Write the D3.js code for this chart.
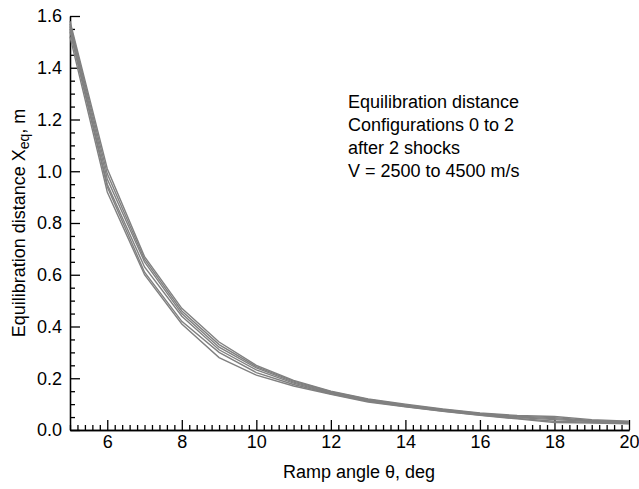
<!DOCTYPE html>
<html>
<head>
<meta charset="utf-8">
<script src="https://cdn.jsdelivr.net/npm/d3@7"></script>
<style>
  body { margin: 0; background: #fff; }
  svg text { font-family: "Liberation Sans", Arial, sans-serif; fill: #000; }
</style>
</head>
<body>
<svg id="chart"></svg>
<script>
// ----- Data -----
const angles = d3.range(5, 21);   // ramp angle, deg
const lineA = [1.58, 1.01, 0.67, 0.47, 0.34, 0.25, 0.192, 0.150, 0.120, 0.100, 0.081, 0.066, 0.056, 0.052, 0.040, 0.034];
const lineB = [1.57, 0.99, 0.66, 0.46, 0.33, 0.245, 0.189, 0.148, 0.118, 0.097, 0.079, 0.064, 0.053, 0.048, 0.037, 0.032];
const lineC = [1.56, 0.97, 0.65, 0.45, 0.32, 0.240, 0.185, 0.145, 0.116, 0.095, 0.077, 0.062, 0.050, 0.044, 0.035, 0.030];
const lineD = [1.55, 0.95, 0.63, 0.44, 0.31, 0.232, 0.181, 0.142, 0.113, 0.093, 0.075, 0.060, 0.048, 0.040, 0.033, 0.028];
const lineE = [1.54, 0.94, 0.61, 0.42, 0.30, 0.222, 0.176, 0.140, 0.111, 0.091, 0.073, 0.058, 0.045, 0.034, 0.030, 0.025];
const lineF = [1.52, 0.92, 0.60, 0.41, 0.28, 0.212, 0.170, 0.138, 0.108, 0.090, 0.072, 0.057, 0.043, 0.029, 0.027, 0.024];
const series = [lineA, lineB, lineC, lineD, lineE, lineF];

const xMajor = [6, 8, 10, 12, 14, 16, 18, 20];
const yMajor = [0, 0.2, 0.4, 0.6, 0.8, 1.0, 1.2, 1.4, 1.6];
const legendLines = [
  "Equilibration distance",
  "Configurations 0 to 2",
  "after 2 shocks",
  "V = 2500 to 4500 m/s"
];

// ----- Layout -----
const W = 639, H = 489;
const margin = { top: 16, right: 10, bottom: 59, left: 70 };
const width = W - margin.left - margin.right,
      height = H - margin.top - margin.bottom;
const fontSize = 18;

const svg = d3.select("#chart").attr("width", W).attr("height", H);
const g = svg.append("g").attr("transform", `translate(${margin.left},${margin.top})`);

const x = d3.scaleLinear().domain([5, 20]).range([0, width]);
const y = d3.scaleLinear().domain([0, 1.6]).range([height, 0]);

// ----- Axes (ticks point inward) -----
const xMinor = d3.range(5, 20.001, 0.2).map(v => +v.toFixed(1)).filter(v => !xMajor.includes(v));
const yMinor = d3.range(0, 1.601, 0.05).map(v => +v.toFixed(2)).filter(v => !yMajor.includes(v));

g.append("g")
    .attr("transform", `translate(0,${height})`)
    .call(d3.axisBottom(x).tickValues(xMinor).tickSize(-5).tickSizeOuter(0).tickFormat(""));
g.append("g")
    .attr("transform", `translate(0,${height})`)
    .call(d3.axisBottom(x).tickValues(xMajor).tickSize(-10).tickSizeOuter(0).tickPadding(5).tickFormat(d3.format("d")));

g.append("g")
    .call(d3.axisLeft(y).tickValues(yMinor).tickSize(-5).tickSizeOuter(0).tickFormat(""));
g.append("g")
    .call(d3.axisLeft(y).tickValues(yMajor).tickSize(-10).tickSizeOuter(0).tickPadding(8).tickFormat(d3.format(".1f")));

g.selectAll(".domain, .tick line").attr("stroke", "#000").attr("stroke-width", 1.3);
g.selectAll(".tick text").attr("font-size", fontSize).attr("font-family", "Liberation Sans, Arial, sans-serif");

// ----- Curves -----
const line = d3.line()
    .x((d, i) => x(angles[i]))
    .y(d => y(d));

g.selectAll(".curve")
  .data(series)
  .join("path")
    .attr("class", "curve")
    .attr("fill", "none")
    .attr("stroke", "#808080")
    .attr("stroke-width", 1.4)
    .attr("d", line);

// ----- Axis titles -----
svg.append("text")
    .attr("x", 359)
    .attr("y", 478)
    .attr("text-anchor", "middle")
    .attr("font-size", fontSize)
    .text("Ramp angle θ, deg");

const yTitle = svg.append("text")
    .attr("transform", `translate(25,${margin.top + height / 2}) rotate(-90)`)
    .attr("text-anchor", "middle")
    .attr("font-size", fontSize);
yTitle.append("tspan").text("Equilibration distance X");
yTitle.append("tspan").attr("font-size", 14).attr("dy", 4).text("eq");
yTitle.append("tspan").attr("dy", -4).text(", m");

// ----- Annotation -----
svg.append("g")
  .selectAll("text")
  .data(legendLines)
  .join("text")
    .attr("x", 348)
    .attr("y", (d, i) => 108 + i * 23)
    .attr("font-size", fontSize)
    .text(d => d);
</script>
</body>
</html>
